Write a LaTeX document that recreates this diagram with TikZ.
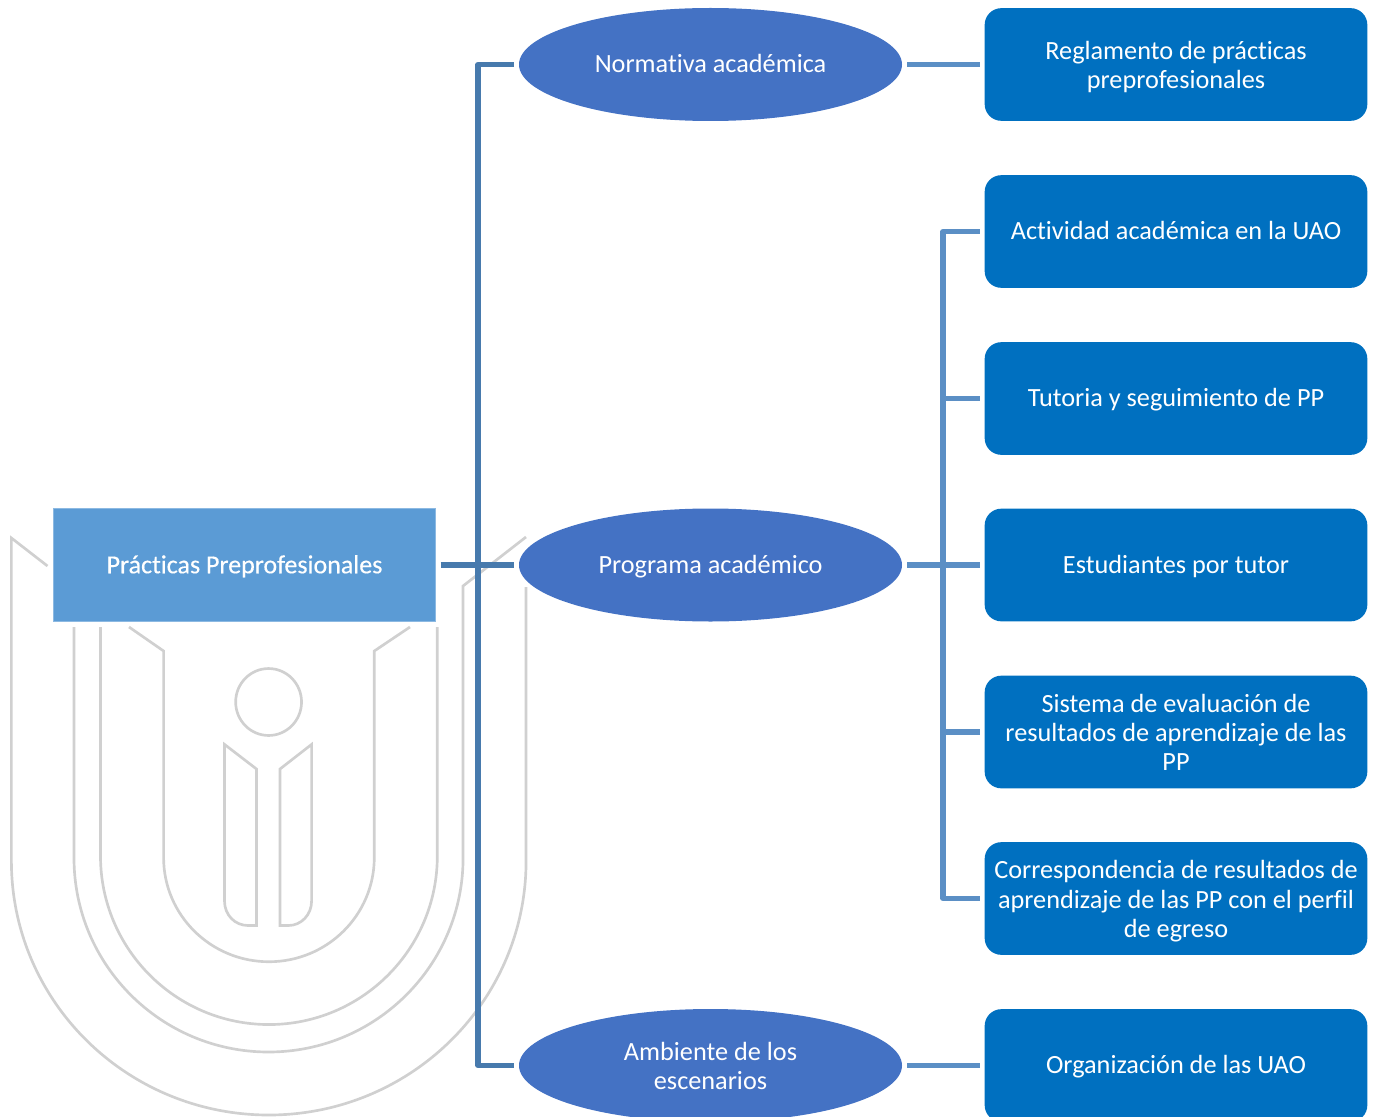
\documentclass[tikz,border=0pt]{standalone}
\usepackage{fontspec}
\setmainfont[Ligatures=NoCommon]{Carlito}
\newfontfamily\rootfont[FakeBold=0.4,Ligatures=NoCommon]{Carlito}
\usetikzlibrary{shapes.geometric}
\definecolor{boxblue}{HTML}{0070C0}
\definecolor{ellblue}{HTML}{4472C4}
\definecolor{rootblue}{HTML}{5B9BD5}
\definecolor{busone}{HTML}{477AAD}
\definecolor{bustwo}{HTML}{5B8FC5}
\definecolor{mark}{HTML}{D0D0D0}
\newcommand{\linestrut}{\rule[-4.6pt]{0pt}{21.6pt}}
\newcommand{\toplift}{\rule{0pt}{19pt}}
\tikzset{
  lab/.style={text=white,align=center,font=\fontsize{19.7}{22}\selectfont,inner sep=0pt,outer sep=3.75pt,
    execute at begin node=\linestrut,execute at end node=\linestrut},
  itembox/.style={lab,rectangle,fill=boxblue,rounded corners=12.5pt,minimum width=287pt,minimum height=84.5pt},
  topic/.style={lab,ellipse,fill=ellblue,minimum width=287.25pt,minimum height=84.75pt},
  rootbox/.style={lab,rectangle,fill=rootblue,draw=rootblue!70!white,line width=.4pt,minimum width=286.8pt,minimum height=84.75pt,font=\rootfont\fontsize{19.5}{22}\selectfont},
  linkone/.style={draw=busone,line width=3.9pt,line join=round},
  linktwo/.style={draw=bustwo,line width=3.9pt,line join=round},
  logo/.style={draw=mark,line width=2pt,line join=miter}
}
\begin{document}
\begin{tikzpicture}[x=0.75pt,y=-0.75pt]
\useasboundingbox (0,0) rectangle (1376,1116);
\clip (0,0) rectangle (1376,1116);
% watermark
\draw[logo] (47.5,566) -- (11.4,538) -- (11.4,861) arc[start angle=180,end angle=360,x radius=193pt,y radius=190.5pt] -- (526,587);
\draw[logo] (74,627) -- (74,858) arc[start angle=180,end angle=360,x radius=145.9pt,y radius=145.5pt] -- (463,586) -- (526,537);
\draw[logo] (100.5,627) -- (100.5,856) arc[start angle=180,end angle=360,x radius=126.3pt,y radius=126.4pt] -- (437.3,627);
\draw[logo] (129,627) -- (163.6,651) -- (163.6,857.6) arc[start angle=180,end angle=360,x radius=79pt,y radius=78.1pt] -- (374.3,651) -- (410,627);
\draw[logo] (268.6,702) ellipse [x radius=24.7pt,y radius=25.1pt];
\draw[logo] (224.5,744.4) -- (256.5,769) -- (256.5,925.5) -- (248,925.5) .. controls (235,925.5) and (224.5,915) .. (224.5,901) -- cycle;
\draw[logo] (311.6,744.4) -- (280,769) -- (280,925.5) -- (288.5,925.5) .. controls (301,925.5) and (311.6,915) .. (311.6,901) -- cycle;
% nodes
\node[rootbox] (root) at (244.5,565) {Prácticas Preprofesionales};
\node[topic] (norm) at (710.5,64.5) {Normativa académica};
\node[topic] (prog) at (710.5,565) {Programa académico};
\node[topic] (amb) at (710.5,1065.5) {\toplift Ambiente de los\\escenarios};
\node[itembox] (regl) at (1176,64.5) {\toplift Reglamento de prácticas\\preprofesionales};
\node[itembox] (acti) at (1176,231.5) {Actividad académica en la UAO};
\node[itembox] (tuto) at (1176,398.5) {Tutoria y seguimiento de PP};
\node[itembox] (estu) at (1176,565) {Estudiantes por tutor};
\node[itembox] (sist) at (1176,732) {\toplift Sistema de evaluación de\\resultados de aprendizaje de las\\PP};
\node[itembox] (corr) at (1176,898.5) {\toplift Correspondencia de resultados de\\aprendizaje de las PP con el perfil\\de egreso};
\node[itembox] (orga) at (1176,1065.5) {Organización de las UAO};
\coordinate (busa) at (478,565);
\coordinate (busb) at (943,565);
% connectors
\draw[linkone] (root.east) -- (prog.west);
\draw[linkone] (norm.west) -| (busa) |- (amb.west);
\draw[linktwo] (norm.east) -- (regl.west);
\draw[linktwo] (amb.east) -- (orga.west);
\draw[linktwo] (prog.east) -- (estu.west);
\draw[linktwo] (acti.west) -| (busb) |- (corr.west);
\draw[linktwo] (tuto.west) -- (tuto.west -| busb);
\draw[linktwo] (sist.west) -- (sist.west -| busb);
\end{tikzpicture}
\end{document}
